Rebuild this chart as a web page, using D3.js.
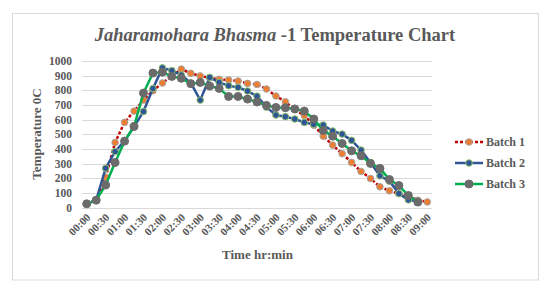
<!DOCTYPE html>
<html><head><meta charset="utf-8">
<script src="https://cdn.jsdelivr.net/npm/d3@7/dist/d3.min.js"></script>
<style>
body{margin:0;background:#fff;}
text{font-family:"Liberation Serif","Times New Roman",serif;font-weight:bold;fill:#595959;}
</style></head>
<body><svg id="c" width="556" height="291"></svg>
<script>
const categories = ["00:00","00:15","00:30","00:45","01:00","01:15","01:30","01:45","02:00","02:15","02:30","02:45","03:00","03:15","03:30","03:45","04:00","04:15","04:30","04:45","05:00","05:15","05:30","05:45","06:00","06:15","06:30","06:45","07:00","07:15","07:30","07:45","08:00","08:15","08:30","08:45","09:00"];
const tickLabels = ["00:00","00:30","01:00","01:30","02:00","02:30","03:00","03:30","04:00","04:30","05:00","05:30","06:00","06:30","07:00","07:30","08:00","08:30","09:00"];
const yTicks = [0,100,200,300,400,500,600,700,800,900,1000];
const batch1 = [25,50,207,444,581,658,733,797,850,896,945,916,898,885,875,870,863,847,840,809,761,722,668,628,562,487,426,367,308,246,198,141,114,95,75,50,38];
const batch2 = [25,50,268,382,455,552,655,812,953,934,904,850,733,888,854,831,820,795,760,685,631,620,604,581,567,563,522,501,458,392,305,216,180,95,52,40,null];
const batch3 = [25,50,153,307,453,553,781,918,924,895,882,845,854,829,813,758,758,740,720,697,683,681,673,658,604,526,487,437,387,353,301,267,191,150,82,37,null];
const seriesNames = ["Batch 1","Batch 2","Batch 3"];

const svg = d3.select("#c");
svg.append("rect").attr("x",12.5).attr("y",13.5).attr("width",526).attr("height",266.5)
  .attr("fill","#fff").attr("stroke","#d9d9d9").attr("stroke-width",1);

const x = d3.scalePoint().domain(categories).range([82,432]).padding(0.5);
const y = d3.scaleLinear().domain([0,1000]).range([207.5,61]);

// gridlines
svg.append("g").selectAll("line").data(yTicks).join("line")
  .attr("x1",82).attr("x2",432).attr("y1",d=>Math.round(y(d))+0.5).attr("y2",d=>Math.round(y(d))+0.5)
  .attr("stroke","#d9d9d9").attr("stroke-width",1);

// y axis
const ya = svg.append("g").attr("transform","translate(82,0)")
  .call(d3.axisLeft(y).tickValues(yTicks).tickSize(0).tickPadding(10).tickFormat(d3.format("d")));
ya.select(".domain").remove();
ya.selectAll("text").style("font-size","11.5px").attr("fill","#595959");

// x axis
const xa = svg.append("g").attr("transform","translate(0,208)")
  .call(d3.axisBottom(x).tickValues(tickLabels).tickSize(0).tickPadding(0));
xa.select(".domain").remove();
xa.selectAll("text").style("font-size","11px").attr("fill","#595959")
  .attr("text-anchor","end").attr("dy","0").attr("y",0)
  .attr("transform","translate(4,10) rotate(-45)");

// titles
const t = svg.append("text").attr("x",275).attr("y",41).attr("text-anchor","middle").style("font-size","18.5px");
t.append("tspan").style("font-style","italic").text("Jaharamohara Bhasma");
t.append("tspan").text(" -1 Temperature Chart");
svg.append("text").attr("x",257.5).attr("y",259).attr("text-anchor","middle").style("font-size","13px").text("Time hr:min");
svg.append("text").attr("transform","translate(41,134) rotate(-90)").attr("text-anchor","middle").style("font-size","13px").text("Temperature 0C");

const styles = [
  {data:batch1, line:"#c00000", dash:"3,2", mfill:"#ed7d31", mstroke:"#a5a5a5", r:3.3},
  {data:batch2, line:"#2f5597", dash:null, mfill:"#2f5597", mstroke:"#8fc56a", r:3.3},
  {data:batch3, line:"#00b050", dash:null, mfill:"#6b6b6b", mstroke:"#6b6b6b", r:4}
];
const line = d3.line().defined(d=>d.v!=null).x(d=>x(d.c)).y(d=>y(d.v));
styles.forEach((s,k)=>{
  const pts = categories.map((c,i)=>({c, v:s.data[i]}));
  svg.append("path").datum(pts).attr("d",line).attr("fill","none")
    .attr("stroke",s.line).attr("stroke-width",2.5).attr("stroke-dasharray",s.dash).attr("stroke-linejoin","round");
  svg.append("g").selectAll("circle").data(pts.filter(d=>d.v!=null)).join("circle")
    .attr("cx",d=>x(d.c)).attr("cy",d=>y(d.v)).attr("r",s.r)
    .attr("fill",s.mfill).attr("stroke",s.mstroke).attr("stroke-width",1);
  // legend
  const ly = 142 + k*21;
  svg.append("line").attr("x1",455).attr("x2",483).attr("y1",ly).attr("y2",ly)
    .attr("stroke",s.line).attr("stroke-width",2.5).attr("stroke-dasharray",s.dash);
  svg.append("circle").attr("cx",469).attr("cy",ly).attr("r",s.r).attr("fill",s.mfill).attr("stroke",s.mstroke).attr("stroke-width",1);
  svg.append("text").attr("x",486).attr("y",ly+4).style("font-size","12px").text(seriesNames[k]);
});
</script></body></html>
